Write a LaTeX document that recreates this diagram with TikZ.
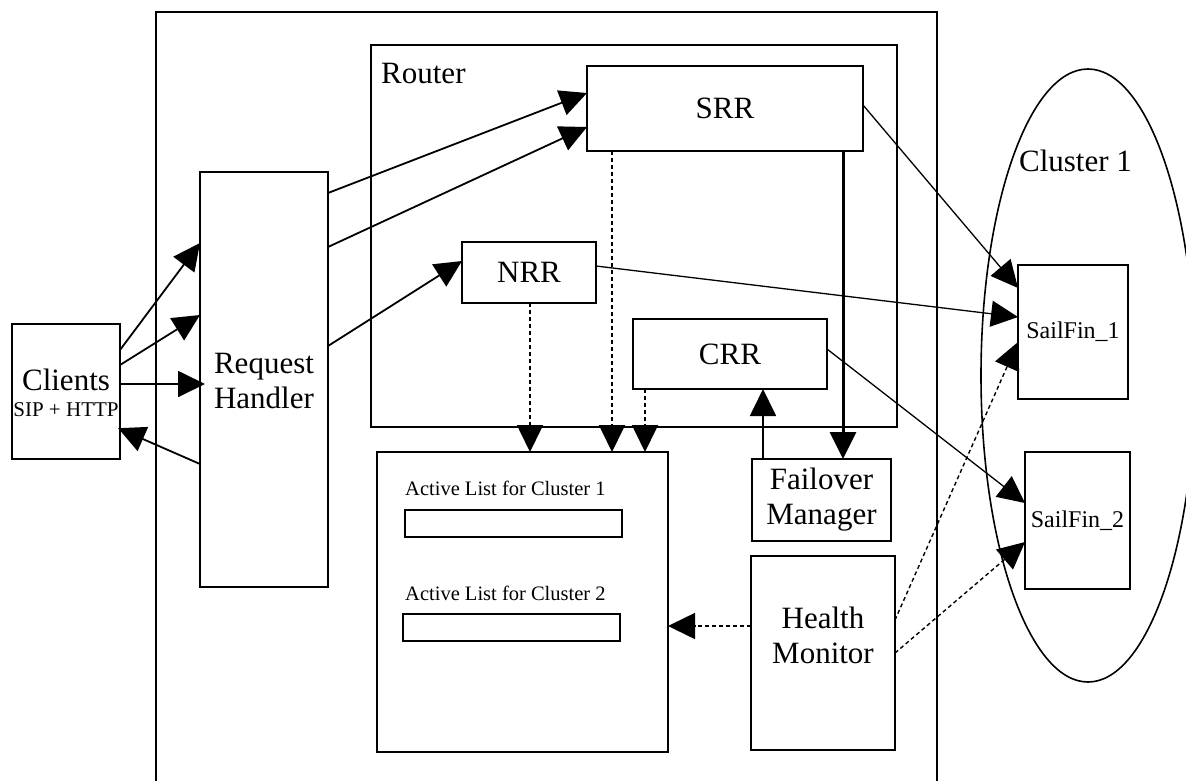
\documentclass[tikz,border=0pt]{standalone}
\usepackage{fontspec}
\setmainfont{Liberation Serif}
\usetikzlibrary{arrows.meta,shapes.geometric}

\begin{document}
\begin{tikzpicture}[x=1pt,y=-1pt,
  box/.style={draw, line width=1.8pt, inner sep=0pt, outer sep=0pt},
  big/.style={font=\fontsize{31}{35}\selectfont},
  mid/.style={font=\fontsize{24}{28}\selectfont},
  small/.style={font=\fontsize{20.5}{24}\selectfont},
  arr/.style={-{Triangle[length=27pt,width=26pt]}},
  conn/.style={arr, line width=1.8pt},
  thinconn/.style={arr, line width=1.3pt},
  dots/.style={arr, line width=1.6pt, dash pattern=on 4pt off 3pt},
  heavy/.style={arr, line width=3pt},
]
\useasboundingbox (0,0) rectangle (1186,780);
\clip (0,0) rectangle (1186,780);

% server frame and router block
\node[box, minimum width=781pt, minimum height=790pt] (outer) at (546.5,407) {};
\node[box, minimum width=526pt, minimum height=382pt] (router) at (634,236) {};
\node[big, anchor=base west, inner sep=0pt] (routerlbl) at (381,83) {Router};

% routing rules
\node[box, big, minimum width=276pt, minimum height=85pt] (srr) at (725,108.5) {SRR};
\node[box, big, minimum width=134pt, minimum height=61pt] (nrr) at (529,272.5) {NRR};
\node[box, big, minimum width=194pt, minimum height=70pt] (crr) at (730,354) {CRR};

% clients
\node[box, minimum width=108pt, minimum height=135pt] (cl) at (66,391.5) {};
\node[big, anchor=base, inner sep=0pt] (clA) at (66,390) {Clients};
\node[font=\fontsize{21}{24}\selectfont, anchor=base, inner sep=0pt] (clB) at (66,416) {SIP + HTTP};

% request handler
\node[box, minimum width=128pt, minimum height=415pt] (rh) at (264,379.5) {};
\node[big, anchor=base, inner sep=0pt] (rhA) at (264,373) {Request};
\node[big, anchor=base, inner sep=0pt] (rhB) at (264,408) {Handler};

% active lists
\node[box, minimum width=291pt, minimum height=300pt] (al) at (522.5,602) {};
\node[small, anchor=base west, inner sep=0pt] (alA) at (405,495) {Active List for Cluster 1};
\node[box, minimum width=217pt, minimum height=27pt] (barA) at (513.5,523.5) {};
\node[small, anchor=base west, inner sep=0pt] (alB) at (405,600) {Active List for Cluster 2};
\node[box, minimum width=217pt, minimum height=27pt] (barB) at (511.5,627.5) {};

% failover manager and health monitor
\node[box, big, align=center, minimum width=139pt, minimum height=82pt] (fm) at (821.5,500) {Failover\\Manager};
\node[box, minimum width=144pt, minimum height=194pt] (hm) at (823,653) {};
\node[big, anchor=base, inner sep=0pt] (hmA) at (823,628) {Health};
\node[big, anchor=base, inner sep=0pt] (hmB) at (823,663) {Monitor};

% cluster
\node[draw, ellipse, line width=1.6pt, inner sep=0pt, minimum width=214pt, minimum height=613pt] (cluster) at (1088,375.5) {};
\node[big, anchor=base, inner sep=0pt] (clusterlbl) at (1075.5,171) {Cluster 1};
\node[box, mid, minimum width=110pt, minimum height=134pt] (sf1) at (1073,332) {SailFin\_1};
\node[box, mid, minimum width=105pt, minimum height=137pt] (sf2) at (1077.5,520.5) {SailFin\_2};

% client traffic
\draw[conn] (cl.east |- 0,350) -- (rh.west |- 0,243);
\draw[conn] (cl.east |- 0,365) -- (rh.west |- 0,315);
\draw[conn, shorten >=-5pt] (cl.east |- 0,384) -- (rh.west |- 0,384);
\draw[conn, shorten >=-2pt] (rh.west |- 0,464) -- (cl.east |- 0,429);

% request handler to routing rules
\draw[conn] (rh.east |- 0,193) -- (srr.west |- 0,93);
\draw[conn] (rh.east |- 0,247) -- (srr.west |- 0,127);
\draw[conn] (rh.east |- 0,346) -- (nrr.west |- 0,261);

% routing rules to instances
\draw[thinconn] (srr.east |- 0,105) -- (sf1.west |- 0,288);
\draw[thinconn] (nrr.east |- 0,266) -- (sf1.west |- 0,317);
\draw[thinconn] (crr.east |- 0,349) -- (sf2.west |- 0,503);

% lookups into the active lists
\draw[dots] (nrr.south -| 530,0) -- (al.north -| 530,0);
\draw[dots] (srr.south -| 612,0) -- (al.north -| 612,0);
\draw[dots] (crr.south -| 645,0) -- (al.north -| 645,0);

% failover
\draw[heavy] (srr.south -| 843,0) -- (fm.north -| 843,0);
\draw[conn] (fm.north -| 763,0) -- (crr.south -| 763,0);

% health monitoring
\draw[dots] (hm.west |- 0,626) -- (al.east |- 0,626);
\draw[dots, line width=1.4pt] (hm.east |- 0,620) -- (sf1.west |- 0,342);
\draw[dots, line width=1.4pt] (hm.east |- 0,653) -- (sf2.west |- 0,542);
\end{tikzpicture}
\end{document}
